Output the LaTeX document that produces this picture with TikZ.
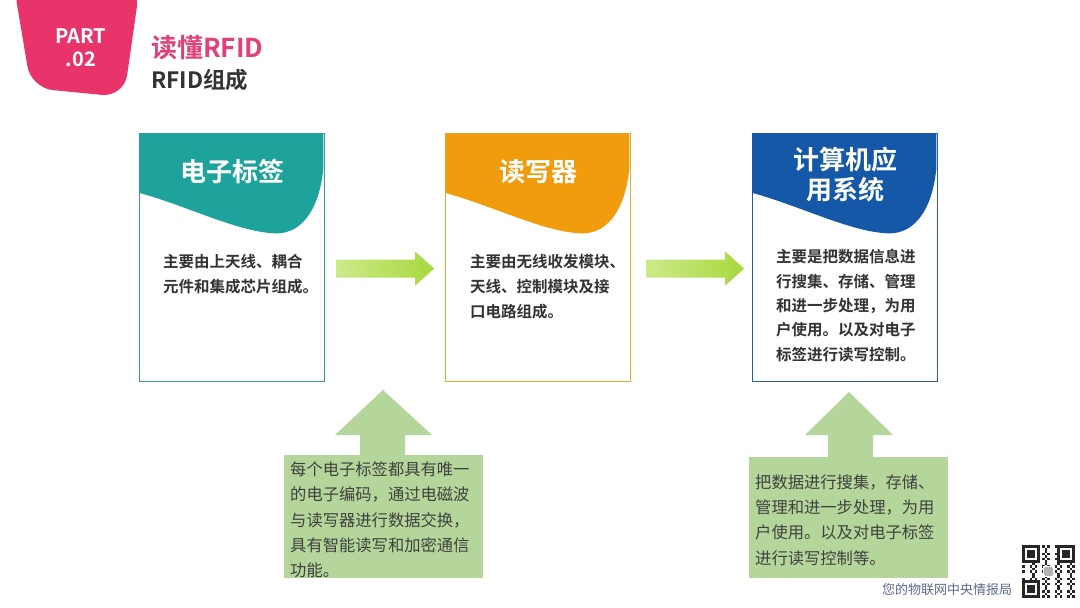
\documentclass[tikz,border=0pt]{standalone}
\usepackage{fontspec}
\setmainfont{Noto Sans CJK SC}[BoldFont={Noto Sans CJK SC Bold}]
\definecolor{pinkc}{HTML}{E8336B}
\definecolor{titlec}{HTML}{E2407A}
\definecolor{darkc}{HTML}{333333}
\definecolor{tealc}{HTML}{1DA39B}
\definecolor{tealb}{HTML}{3A9A94}
\definecolor{orangec}{HTML}{F09C0C}
\definecolor{orangeb}{HTML}{E8A83A}
\definecolor{bluec}{HTML}{1558A8}
\definecolor{blueb}{HTML}{2A5A9A}
\definecolor{greenbox}{HTML}{B4D69A}
\definecolor{arrowl}{HTML}{CDE98A}
\definecolor{arrowr}{HTML}{A8D83E}
\definecolor{greytext}{HTML}{404040}
\definecolor{wmark}{HTML}{5A6A8A}
\newcommand\cardhead[2]{%
  \begin{scope}[shift={(#2.north west)}]
    \fill[#1] (0.6,0.6) -- (184.4,0.6) -- (184.4,35)
      .. controls (180,80) and (160,104) .. (131,100)
      .. controls (95,97) and (45,72) .. (0.6,60) -- cycle;
  \end{scope}}
\newcommand\flowarrow[1]{%
  \shade[left color=arrowl, right color=arrowr] (#1) ++(0,-9) -- ++(79,0) -- ++(0,-8) -- ++(19,17)
    -- ++(-19,17) -- ++(0,-8) -- ++(-79,0) -- cycle;}
\begin{document}
\begin{tikzpicture}[x=1pt,y=-1pt,
  card/.style={draw, line width=1.2pt, fill=white, minimum width=185pt, minimum height=248pt, inner sep=0pt},
  hdrtext/.style={text=white, font={\bfseries\fontsize{26}{30}\selectfont}, align=center},
  body/.style={text=darkc, align=left, inner sep=0pt, anchor=west},
  gbox/.style={fill=greenbox, minimum width=199pt, minimum height=122pt, inner sep=0pt, anchor=north west},
  gtext/.style={text=greytext, align=left, inner sep=0pt, anchor=west, font={\fontsize{16.3}{25.3}\selectfont}}
]
\useasboundingbox (0,0) rectangle (1080,608);
\fill[white] (0,0) rectangle (1080,608);

% badge
\fill[pinkc, rounded corners=22pt] (13,-20) -- (140,-15) -- (124,97) -- (31,88) -- cycle;
\node[text=white, font={\bfseries\fontsize{20}{23}\selectfont}, align=center] (badge) at (81,48) {PART\\.02};

% titles
\node[anchor=west, text=titlec, font={\bfseries\fontsize{26}{30}\selectfont}, inner sep=0pt] (title) at (151,48) {读懂RFID};
\node[anchor=west, text=darkc, font={\bfseries\fontsize{22.5}{26}\selectfont}, inner sep=0pt] (subtitle) at (151,80) {RFID组成};

% cards
\node[card, draw=tealb, anchor=north west] (c1) at (139,133) {};
\node[card, draw=orangeb, anchor=north west] (c2) at (445,133) {};
\node[card, draw=blueb, anchor=north west] (c3) at (752,133) {};
\cardhead{tealc}{c1}
\cardhead{orangec}{c2}
\cardhead{bluec}{c3}
\node[hdrtext] (h1) at ([yshift=-39pt]c1.north) {电子标签};
\node[hdrtext] (h2) at ([yshift=-39pt]c2.north) {读写器};
\node[hdrtext] (h3) at ([yshift=-42pt]c3.north) {计算机应\\用系统};

\node[body, font={\bfseries\fontsize{15.5}{25}\selectfont}] (t1) at (163,274.5) {主要由上天线、耦合\\元件和集成芯片组成。};
\node[body, font={\bfseries\fontsize{15.5}{25}\selectfont}] (t2) at (470,287) {主要由无线收发模块、\\天线、控制模块及接\\口电路组成。};
\node[body, font={\bfseries\fontsize{15.5}{24.3}\selectfont}] (t3) at (776,305.5) {主要是把数据信息进\\行搜集、存储、管理\\和进一步处理，为用\\户使用。以及对电子\\标签进行读写控制。};

% horizontal arrows between cards
\coordinate (a1) at ([xshift=11pt,yshift=-11pt]c1.east);
\coordinate (a2) at ([xshift=15pt,yshift=-11pt]c2.east);
\flowarrow{a1}
\flowarrow{a2}

% green boxes with up arrows
\node[gbox, minimum height=123pt] (b1) at (284,455) {};
\node[gbox, minimum height=121pt] (b2) at (749,457) {};
\fill[greenbox] ([xshift=76pt]b1.north west) -- (360,435) -- (335,435) -- (383,390) -- (432,435) -- (405,435) -- ([xshift=121pt]b1.north west) -- cycle;
\fill[greenbox] ([xshift=79pt]b2.north west) -- (828,435) -- (805,435) -- (849,392) -- (893,435) -- (873,435) -- ([xshift=124pt]b2.north west) -- cycle;
\node[gtext] (g1) at (290,520) {每个电子标签都具有唯一\\的电子编码，通过电磁波\\与读写器进行数据交换，\\具有智能读写和加密通信\\功能。};
\node[gtext] (g2) at (755,520) {把数据进行搜集，存储、\\管理和进一步处理，为用\\户使用。以及对电子标签\\进行读写控制等。};

% watermark
\node[text=wmark, font={\fontsize{13}{15}\selectfont}, inner sep=0pt] (wm) at (947,590) {您的物联网中央情报局};

% QR code
\begin{scope}[shift={(1022,545)}]
  \fill[white] (-2,-2) rectangle (55,55);
  \foreach \i in {0,...,20}{\foreach \j in {0,...,20}{%
    \pgfmathtruncatemacro\v{mod(\i*\i*3+\j*7+\i*\j*5+\j*\j+\i,5)}%
    \ifnum\v<2 \fill[black!85] (\i*2.5,\j*2.5) rectangle ++(2.5,2.5);\fi}}
  \foreach \px/\py in {0/0,35/0,0/35}{
    \begin{scope}[shift={(\px,\py)}]
      \fill[white] (-0.5,-0.5) rectangle (18,18);
      \fill[black!85] (0,0) rectangle (17.5,17.5);
      \fill[white] (2.5,2.5) rectangle (15,15);
      \fill[black!85] (5,5) rectangle (12.5,12.5);
    \end{scope}}
  \fill[white] (21,21) rectangle (32,32);
  \fill[black!30, rounded corners=2pt] (22,22) rectangle (31,31);
\end{scope}
\end{tikzpicture}
\end{document}
